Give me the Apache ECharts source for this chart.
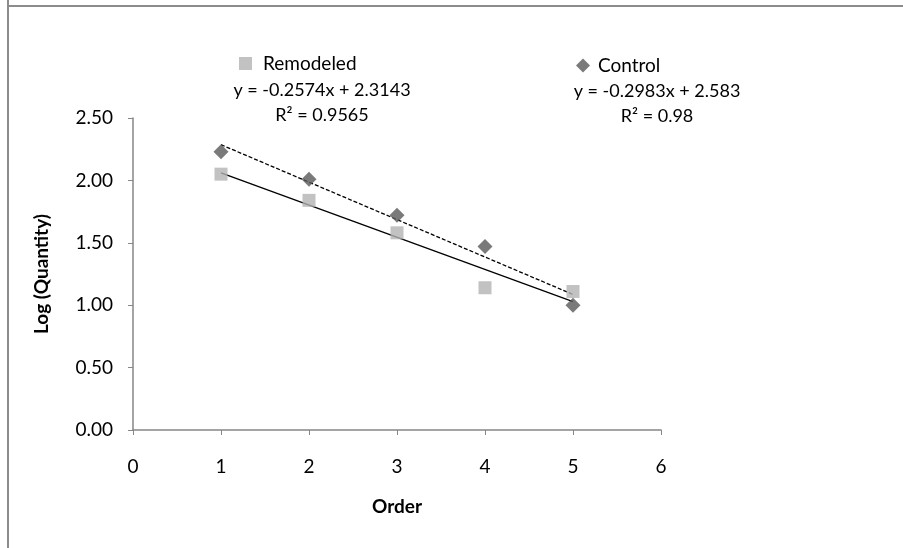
<!DOCTYPE html>
<html>
<head>
<meta charset="utf-8">
<script src="https://cdn.jsdelivr.net/npm/echarts@6/dist/echarts.min.js"></script>
<style>html,body{margin:0;padding:0;background:#fff}#c{width:903px;height:548px}</style>
</head>
<body>
<div id="c"></div>
<script>
const order = [1, 2, 3, 4, 5];
const remodeled = [2.05, 1.84, 1.58, 1.14, 1.11];
const control = [2.23, 2.01, 1.72, 1.47, 1.00];
const remodeledEq = 'y = -0.2574x + 2.3143';
const remodeledR2 = 'R² = 0.9565';
const controlEq = 'y = -0.2983x + 2.583';
const controlR2 = 'R² = 0.98';

function fit(xs, ys) {
  const n = xs.length;
  const mx = xs.reduce((a, b) => a + b, 0) / n;
  const my = ys.reduce((a, b) => a + b, 0) / n;
  let sxy = 0, sxx = 0;
  for (let i = 0; i < n; i++) { sxy += (xs[i] - mx) * (ys[i] - my); sxx += (xs[i] - mx) ** 2; }
  const m = sxy / sxx, b = my - m * mx;
  const x0 = Math.min(...xs), x1 = Math.max(...xs);
  return [[x0, m * x0 + b], [x1, m * x1 + b]];
}

const font = 'Lato, "Open Sans", sans-serif';
const fs = 19;
const eqFont = '18px ' + font;
const chart = echarts.init(document.getElementById('c'));
chart.setOption({
  backgroundColor: '#fff',
  animation: false,
  textStyle: { fontFamily: font },
  grid: { left: 133, right: 242, top: 118, bottom: 118 },
  legend: [
    { data: [{ name: 'Remodeled', icon: 'rect' }], left: 234, top: 49, itemWidth: 13, itemHeight: 13,
      textStyle: { fontFamily: font, fontSize: fs, color: '#000', padding: [0, 0, 0, 6] } },
    { data: [{ name: 'Control', icon: 'diamond' }], left: 571, top: 51, itemWidth: 14, itemHeight: 14,
      textStyle: { fontFamily: font, fontSize: fs, color: '#000', padding: [0, 0, 0, 3] } }
  ],
  xAxis: {
    type: 'value', min: 0, max: 6, interval: 1,
    name: 'Order', nameLocation: 'middle', nameGap: 67,
    nameTextStyle: { fontFamily: font, fontSize: fs, fontWeight: 'bold', color: '#000', verticalAlign: 'top' },
    axisLine: { lineStyle: { color: '#868686', width: 1.5 } },
    axisTick: { inside: false, length: 5, lineStyle: { color: '#868686' } },
    axisLabel: { margin: 27, fontSize: fs, color: '#000', fontFamily: font },
    splitLine: { show: false }
  },
  yAxis: {
    type: 'value', min: 0, max: 2.5, interval: 0.5,
    name: 'Log (Quantity)', nameLocation: 'middle', nameGap: 82,
    nameTextStyle: { fontFamily: font, fontSize: fs, fontWeight: 'bold', color: '#000' },
    axisLine: { show: true, lineStyle: { color: '#868686', width: 1.5 } },
    axisTick: { show: true, inside: false, length: 5, lineStyle: { color: '#868686' } },
    axisLabel: { margin: 20, fontSize: fs, color: '#000', fontFamily: font, formatter: v => v.toFixed(2) },
    splitLine: { show: false }
  },
  series: [
    { name: 'Remodeled trend', type: 'line', data: fit(order, remodeled), symbol: 'none',
      lineStyle: { color: '#000', width: 1.3 }, z: 2 },
    { name: 'Control trend', type: 'line', data: fit(order, control), symbol: 'none',
      lineStyle: { color: '#000', width: 1.3, type: [4, 2] }, z: 2 },
    { name: 'Remodeled', type: 'scatter', symbol: 'rect', symbolSize: 13,
      data: order.map((x, i) => [x, remodeled[i]]), itemStyle: { color: '#b3b3b3' }, z: 3 },
    { name: 'Control', type: 'scatter', symbol: 'diamond', symbolSize: 15,
      data: order.map((x, i) => [x, control[i]]), itemStyle: { color: '#595959' }, z: 3 }
  ],
  graphic: [
    { type: 'line', shape: { x1: 8, y1: 0, x2: 8, y2: 548 }, style: { stroke: '#8c8c8c', lineWidth: 2 } },
    { type: 'line', shape: { x1: 8, y1: 6, x2: 903, y2: 6 }, style: { stroke: '#8c8c8c', lineWidth: 2 } },
    { type: 'text', x: 322, y: 90, style: { text: remodeledEq, font: eqFont, fill: '#000', align: 'center', verticalAlign: 'middle' } },
    { type: 'text', x: 322, y: 115, style: { text: remodeledR2, font: eqFont, fill: '#000', align: 'center', verticalAlign: 'middle' } },
    { type: 'text', x: 657, y: 91, style: { text: controlEq, font: eqFont, fill: '#000', align: 'center', verticalAlign: 'middle' } },
    { type: 'text', x: 657, y: 116, style: { text: controlR2, font: eqFont, fill: '#000', align: 'center', verticalAlign: 'middle' } }
  ]
});
</script>
</body>
</html>
